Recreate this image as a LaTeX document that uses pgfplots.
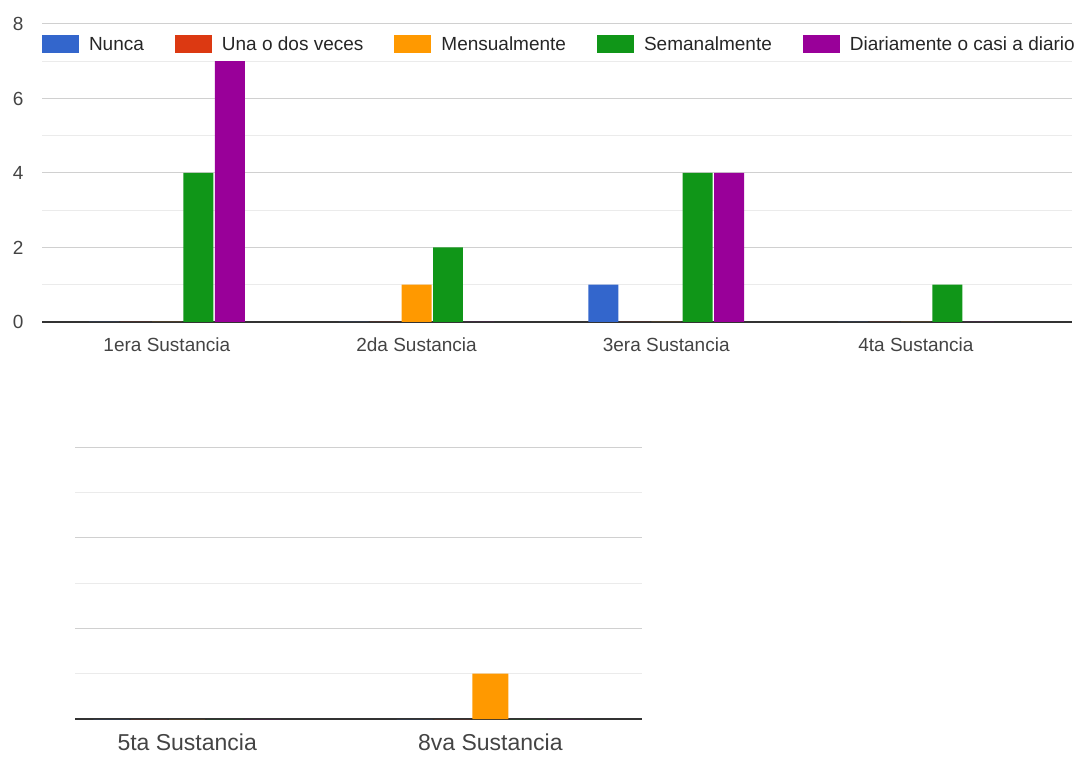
\documentclass[border=0pt]{standalone}
\usepackage{fontspec}
\setmainfont{Liberation Sans}
\usepackage{pgfplots}
\pgfplotsset{compat=1.18}
\definecolor{cNunca}{HTML}{3366CC}
\definecolor{cUna}{HTML}{DC3912}
\definecolor{cMens}{HTML}{FF9900}
\definecolor{cSem}{HTML}{109618}
\definecolor{cDia}{HTML}{990099}
\definecolor{majgrid}{HTML}{D0D0D0}
\definecolor{mingrid}{HTML}{EBEBEB}
\definecolor{lbl}{HTML}{444444}
\definecolor{base}{HTML}{333333}
\pgfplotsset{
  gbar/.style={fill=#1, draw=none,
    legend image code/.code={\fill[##1] (0pt,-2.5pt) rectangle (37pt,15.5pt);}},
  gstyle/.style={
    scale only axis,
    ybar,
    ymin=0,
    axis x line*=bottom,
    axis y line*=left,
    y axis line style={draw=none},
    x axis line style={-, draw=base, line width=1.3pt},
    major tick length=0pt,
    minor tick length=0pt,
    ymajorgrids, yminorgrids,
    minor y tick num=1,
    major grid style={draw=majgrid, line width=1pt},
    minor grid style={draw=mingrid, line width=1pt},
    /pgf/number format/assume math mode=true,
    tick label style={text=lbl},
    clip=false,
  },
}
\begin{document}
\begin{tikzpicture}[x=1pt,y=1pt]
\useasboundingbox (0,0) rectangle (1076,756);
% top chart
\begin{axis}[gstyle,
  at={(42pt,434pt)}, anchor=south west,
  width=1030pt, height=298pt,
  xmin=-0.5, xmax=3.625, ymax=8,
  ytick={0,2,4,6,8},
  xtick={0,1,2,3},
  xticklabels={1era Sustancia,2da Sustancia,3era Sustancia,4ta Sustancia},
  xticklabel style={font=\fontsize{19}{21}\selectfont, yshift=-12pt},
  yticklabel style={font=\fontsize{19}{21}\selectfont, xshift=-15pt},
  bar width=0.12,
  legend columns=5,
  legend cell align=left,
  legend style={draw=none, fill=none, at={(0,0.9625)}, anchor=north west,
    inner sep=0pt, outer sep=0pt,
    font=\fontsize{19}{21}\selectfont, text=black!85,
    nodes={inner xsep=0pt, inner ysep=1pt, yshift=6pt},
    /tikz/every odd column/.append style={column sep=10pt},
    /tikz/every even column/.append style={column sep=31pt}},
]
\addplot[gbar=cNunca, bar shift=-0.252] coordinates {(0,0) (1,0) (2,1) (3,0)};
\addplot[gbar=cUna, bar shift=-0.126] coordinates {(0,0) (1,0) (2,0) (3,0)};
\addplot[gbar=cMens, bar shift=0] coordinates {(0,0) (1,1) (2,0) (3,0)};
\addplot[gbar=cSem, bar shift=0.126] coordinates {(0,4) (1,2) (2,4) (3,1)};
\addplot[gbar=cDia, bar shift=0.252] coordinates {(0,7) (1,0) (2,4) (3,0)};
\legend{Nunca,Una o dos veces,Mensualmente,Semanalmente,Diariamente o casi a diario}
\end{axis}
% bottom chart
\begin{axis}[gstyle,
  at={(75pt,37pt)}, anchor=south west,
  width=567pt, height=272pt,
  xmin=-0.37, xmax=1.5, ymax=6,
  ytick={0,2,4,6},
  yticklabels={},
  xtick={0,1},
  xticklabels={5ta Sustancia,8va Sustancia},
  xticklabel style={font=\fontsize{23}{25}\selectfont, yshift=-11pt},
  bar width=0.119,
]
\addplot[gbar=cNunca, bar shift=-0.25] coordinates {(0,0) (1,0)};
\addplot[gbar=cUna, bar shift=-0.125] coordinates {(0,0) (1,0)};
\addplot[gbar=cMens, bar shift=0] coordinates {(0,0) (1,1)};
\addplot[gbar=cSem, bar shift=0.125] coordinates {(0,0) (1,0)};
\addplot[gbar=cDia, bar shift=0.25] coordinates {(0,0) (1,0)};
\end{axis}
\end{tikzpicture}
\end{document}
